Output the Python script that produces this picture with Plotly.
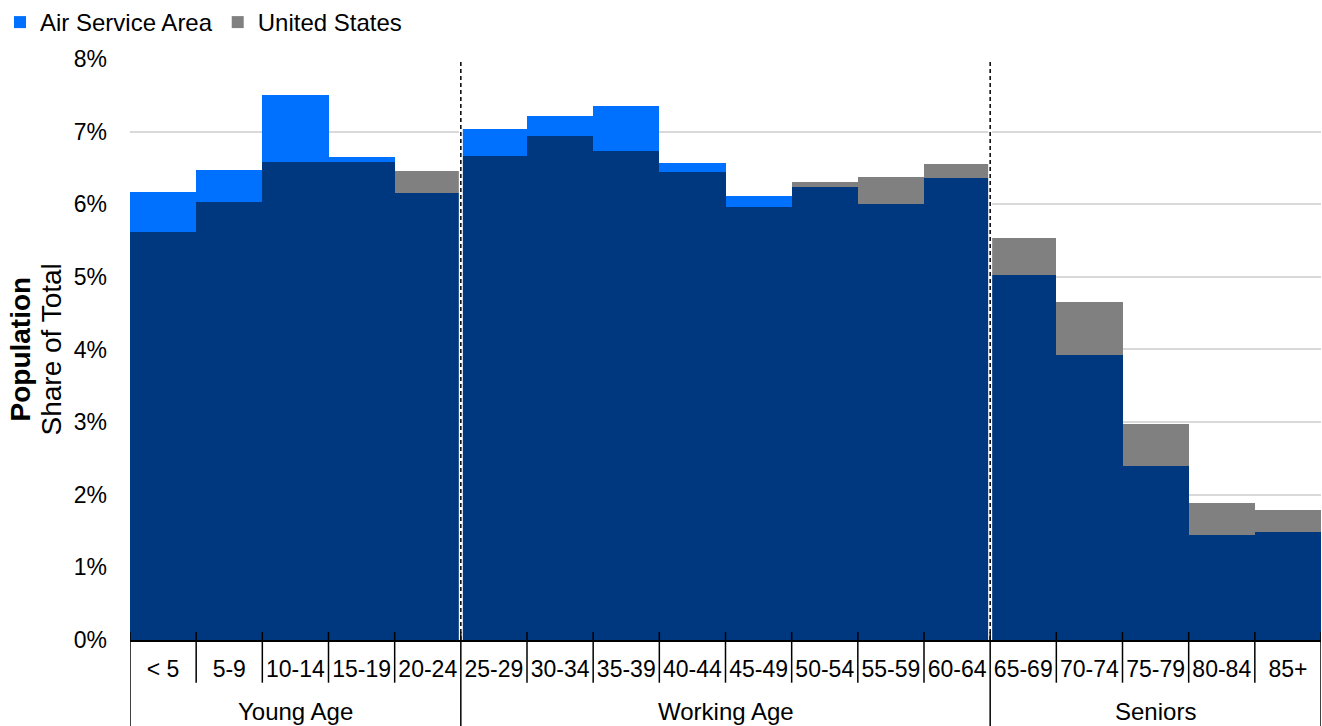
import plotly.graph_objects as go

categories = ["< 5", "5-9", "10-14", "15-19", "20-24",
              "25-29", "30-34", "35-39", "40-44", "45-49", "50-54", "55-59", "60-64",
              "65-69", "70-74", "75-79", "80-84", "85+"]
groups = ["Young Age", "Working Age", "Seniors"]
group_sizes = [5, 8, 5]
air_service = [6.17, 6.47, 7.50, 6.65, 6.16,
               7.03, 7.21, 7.35, 6.57, 6.12, 6.24, 6.01, 6.36,
               5.02, 3.93, 2.39, 1.45, 1.49]
united_states = [5.62, 6.03, 6.58, 6.58, 6.46,
                 6.66, 6.94, 6.74, 6.44, 5.96, 6.31, 6.37, 6.55,
                 5.54, 4.65, 2.97, 1.89, 1.79]

BLUE = "#0070FF"
GRAY = "#808080"
NAVY = "#00387F"
FONT = "Liberation Sans, Arial, sans-serif"

xs = list(range(len(categories)))
overlap = [min(a, u) for a, u in zip(air_service, united_states)]

fig = go.Figure()
fig.add_trace(go.Bar(x=xs, y=[v / 100 for v in air_service], width=1, name="Air Service Area",
                     marker=dict(color=BLUE, line=dict(width=0)), opacity=1))
fig.add_trace(go.Bar(x=xs, y=[v / 100 for v in united_states], width=1, name="United States",
                     marker=dict(color=GRAY, line=dict(width=0)), opacity=1))
fig.add_trace(go.Bar(x=xs, y=[v / 100 for v in overlap], width=1, name="overlap", showlegend=False,
                     marker=dict(color=NAVY, line=dict(width=0)), opacity=1))

PLOT_H = 726 - 55 - 86
PLOT_W = 1322 - 130 - 1
shapes = []
annotations = []

bounds = [-0.5]
for s in group_sizes:
    bounds.append(bounds[-1] + s)

for b in bounds[1:-1]:
    shapes.append(dict(type="line", xref="x", yref="y", x0=b, x1=b, y0=0, y1=0.08,
                       line=dict(color="white", width=4), layer="above"))
    shapes.append(dict(type="line", xref="x", yref="y", x0=b, x1=b, y0=0, y1=0.08,
                       line=dict(color="black", width=1.5, dash="4px,3px"), layer="above"))

for i in range(len(categories) + 1):
    b = i - 0.5
    long = b in bounds
    ylow = -88 / PLOT_H if long else -43 / PLOT_H
    shapes.append(dict(type="line", xref="x", yref="paper", x0=b, x1=b, y0=ylow, y1=8 / PLOT_H,
                       line=dict(color="black", width=1.5), layer="above"))

for g, lo, hi in zip(groups, bounds[:-1], bounds[1:]):
    annotations.append(dict(text=g, xref="x", yref="paper", x=(lo + hi) / 2, y=-72 / PLOT_H,
                            showarrow=False, yanchor="middle", font=dict(size=24, color="black", family=FONT)))

annotations.append(dict(text="<b>Population</b>", xref="paper", yref="paper", x=-110 / PLOT_W, y=0.5,
                        textangle=-90, showarrow=False, xanchor="center", yanchor="middle",
                        font=dict(size=28, color="black", family=FONT)))
annotations.append(dict(text="Share of Total", xref="paper", yref="paper", x=-79 / PLOT_W, y=0.5,
                        textangle=-90, showarrow=False, xanchor="center", yanchor="middle",
                        font=dict(size=28, color="black", family=FONT)))

fig.update_layout(
    width=1322, height=726,
    margin=dict(l=130, r=1, t=55, b=86),
    barmode="overlay", bargap=0,
    plot_bgcolor="white", paper_bgcolor="white",
    font=dict(family=FONT, size=23, color="black"),
    showlegend=True,
    legend=dict(orientation="h", xref="container", yref="container", x=-0.004, y=1.0,
                xanchor="left", yanchor="top", font=dict(size=24, color="black"),
                itemwidth=30, traceorder="normal", bgcolor="rgba(0,0,0,0)"),
    xaxis=dict(range=[-0.5, 17.5], tickmode="array", tickvals=xs, ticktext=categories,
               showgrid=False, zeroline=False, showline=True, linecolor="black", linewidth=1.5,
               ticks="", tickfont=dict(size=23, color="black"), ticklabelstandoff=8),
    yaxis=dict(range=[0, 0.08], tickvals=[i / 100 for i in range(9)], tickformat=".0%",
               showgrid=True, gridcolor="#D9D9D9", gridwidth=1.5, zeroline=False,
               ticks="", tickfont=dict(size=23, color="black"), ticklabelstandoff=22),
    shapes=shapes, annotations=annotations,
)

fig.write_html("out.html", config={"displayModeBar": False},
               post_script="document.body.style.margin='0';document.body.style.overflow='hidden';")
